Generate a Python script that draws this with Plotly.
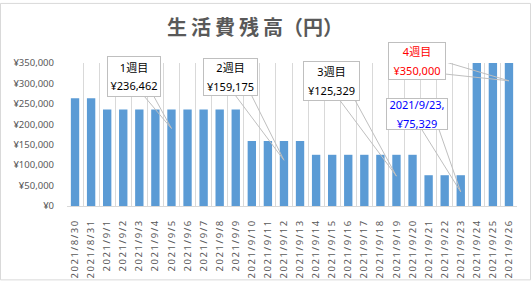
import plotly.graph_objects as go

# ---------------- data ----------------
dates = ["2021/8/30", "2021/8/31"] + [f"2021/9/{d}" for d in range(1, 27)]
balance = ([263462, 263462]
           + [236462] * 9      # 9/1 - 9/9
           + [159175] * 4      # 9/10 - 9/13
           + [125329] * 7      # 9/14 - 9/20
           + [75329] * 3       # 9/21 - 9/23
           + [350000] * 3)     # 9/24 - 9/26

callout_dates = ["2021/9/5", "2021/9/12", "2021/9/19", "2021/9/26", "2021/9/23"]
callout_line1 = ["1週目", "2週目", "3週目", "4週目", "2021/9/23,"]
callout_line2 = ["¥236,462", "¥159,175", "¥125,329", "¥350,000", "¥75,329"]
callout_tip_values = [189700, 112000, 73000, 306400, 34300]

y_ticks = [0, 50000, 100000, 150000, 200000, 250000, 300000, 350000]
y_ticktext = [f"¥{v:,}" for v in y_ticks]

# ---------------- layout constants ----------------
FW, FH = 531, 291
L, R, T, B = 67, 517, 63, 213
W, H = R - L, B - T
YMAX = 350000
N = len(dates)

callout_colors = ["#000000", "#000000", "#000000", "#ff0000", "#0000ff"]
# box (x0, y0, x1, y1) in pixels, wedge base points in pixels
boxes = [(107, 57, 161, 98), (203, 59, 258, 97), (303, 62, 360, 102),
         (388, 42, 446, 80), (386, 101, 448, 133)]
wedges = [((143, 98), (153, 98)), ((233, 97), (250, 97)), ((337, 102), (353, 102)),
          ((446, 63), (446, 75)), ((420, 133), (438, 133))]


def pxx(x):
    return (x - L) / W


def pxy(y):
    return (B - y) / H


labels = ["\u2009".join(list(d)) for d in dates]

fig = go.Figure()
fig.add_trace(go.Bar(x=dates, y=balance, marker=dict(color="#5b9bd5", line=dict(width=0)),
                     hoverinfo="skip"))

shapes = []
annotations = []
for i, d in enumerate(callout_dates):
    idx = dates.index(d)
    tipx = L + (idx + 0.5) * W / N
    tipy = B - callout_tip_values[i] / YMAX * H
    (ax_, ay_), (bx_, by_) = wedges[i]
    path = (f"M {ax_ - tipx:.2f},{tipy - ay_:.2f} L 0,0 "
            f"L {bx_ - tipx:.2f},{tipy - by_:.2f}")
    shapes.append(dict(type="path", xref="x", yref="y", xsizemode="pixel", ysizemode="pixel",
                       xanchor=d, yanchor=callout_tip_values[i], path=path,
                       line=dict(color="#bfbfbf", width=1), layer="above"))
    x0, y0, x1, y1 = boxes[i]
    c = callout_colors[i]
    annotations.append(dict(
        xref="paper", yref="paper", x=pxx((x0 + x1) / 2), y=pxy((y0 + y1) / 2),
        xanchor="center", yanchor="middle", showarrow=False,
        text=(f"<span style='font-size:11px'>{callout_line1[i]}</span><br>"
              f"<span style='font-size:11px'>{callout_line2[i]}</span>"),
        font=dict(size=14, color=c, family="Noto Sans, Noto Sans CJK JP"),
        width=x1 - x0 - 2, height=y1 - y0 - 2, borderpad=0,
        bgcolor="white", bordercolor="#bfbfbf", borderwidth=1, align="center", valign="middle"))

# outer chart border
shapes.append(dict(type="rect", xref="paper", yref="paper",
                   x0=pxx(0.5), x1=pxx(FW - 0.5), y0=pxy(FH - 0.5), y1=pxy(0.5),
                   line=dict(color="#d9d9d9", width=1), fillcolor="rgba(0,0,0,0)", layer="below"))

fig.update_layout(
    width=FW, height=FH,
    margin=dict(l=L, r=FW - R, t=T, b=FH - B, pad=0),
    paper_bgcolor="white", plot_bgcolor="white",
    font=dict(family="Noto Sans, Noto Sans CJK JP", color="#595959"),
    title=dict(text="<b>生\u2009活\u2009費\u2009残\u2009高（円）</b>", x=255 / FW, xref="container",
               xanchor="center", y=1 - 28 / FH, yref="container", yanchor="middle",
               font=dict(size=20, color="#595959", family="Noto Sans CJK JP")),
    bargap=0.48, showlegend=False,
    shapes=shapes, annotations=annotations,
    xaxis=dict(type="category", tickson="boundaries", showgrid=True, gridcolor="#d9d9d9",
               gridwidth=1, showline=True, linecolor="#d9d9d9", linewidth=1, ticks="",
               tickangle=-90, tickvals=dates, ticktext=labels,
               tickfont=dict(size=9.5, color="#595959"), ticklabelstandoff=10,
               range=[-0.5, N - 0.5]),
    yaxis=dict(range=[0, YMAX], tickvals=y_ticks, ticktext=y_ticktext,
               showgrid=False, zeroline=False, showline=False, ticks="",
               tickfont=dict(size=9.5, color="#595959"), ticklabelstandoff=12),
)

fig.write_html("out.html")
